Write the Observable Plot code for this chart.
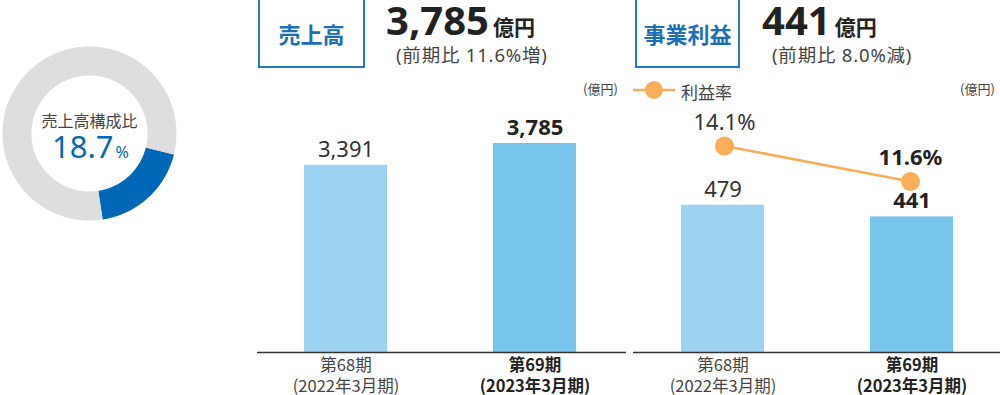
<!DOCTYPE html>
<html lang="ja">
<head>
<meta charset="utf-8">
<script src="https://cdn.jsdelivr.net/npm/d3@7"></script>
<script src="https://cdn.jsdelivr.net/npm/@observablehq/plot@0.6"></script>
<style>
  html, body { margin: 0; padding: 0; background: #fff; }
  body { font-family: "Noto Sans", "Noto Sans CJK JP", sans-serif; color: #333; }
  #wrap { position: relative; width: 1000px; height: 395px; overflow: hidden; }
  .abs { position: absolute; }
  .box { position: absolute; top: -2px; height: 70px; border: 2.5px solid #1f7bc4; box-sizing: border-box;
         color: #1a6fb8; font-weight: 700; font-size: 22px; display: flex; align-items: center; justify-content: center;
         font-family: "Noto Sans CJK JP", sans-serif; background: #fff; }
  .big { position: absolute; top: 0; font-size: 40px; line-height: 40px; font-weight: 700; color: #222; white-space: nowrap; }
  .big .unit { font-size: 21px; font-family: "Noto Sans CJK JP", sans-serif; margin-left: 4px; }
  .sub { position: absolute; top: 44px; font-size: 18.5px; line-height: 22px; color: #444; white-space: nowrap; letter-spacing: 0.8px; }
  .unitlbl { position: absolute; font-size: 13px; color: #444; white-space: nowrap; font-family: "Noto Sans CJK JP", sans-serif; }
  .legtxt { position: absolute; font-size: 17px; color: #444; font-family: "Noto Sans CJK JP", sans-serif; white-space: nowrap; }
  svg { overflow: visible; }
</style>
</head>
<body>
<div id="wrap">
  <div id="donut" class="abs" style="left:0px;top:44px"></div>
  <div id="salesChart" class="abs" style="left:254px;top:80px"></div>
  <div id="profitChart" class="abs" style="left:628px;top:80px"></div>
  <div id="rateChart" class="abs" style="left:628px;top:80px"></div>

  <div class="box" style="left:258px;width:107px">売上高</div>
  <div id="salesBig" class="big" style="left:386px"></div>
  <div id="salesSub" class="sub" style="left:396px"></div>
  <div class="unitlbl" style="left:583px;top:79px">(億円)</div>

  <div class="box" style="left:635px;width:105px">事業利益</div>
  <div id="profitBig" class="big" style="left:762px"></div>
  <div id="profitSub" class="sub" style="left:772px"></div>
  <div class="unitlbl" style="left:960px;top:79px">(億円)</div>

  <svg class="abs" style="left:630px;top:80px" width="50" height="20">
    <line x1="3" x2="45" y1="10" y2="10" stroke="#f8ae5b" stroke-width="2.5"></line>
    <circle cx="24" cy="10" r="9" fill="#f8ae5b"></circle>
  </svg>
  <div id="legendText" class="legtxt" style="left:681px;top:79px"></div>
</div>
<script>
// ---------- data ----------
const periods = ["第68期", "第69期"];
const periodSub = ["(2022年3月期)", "(2023年3月期)"];
const sales = [3391, 3785];          // 売上高 (億円)
const profit = [479, 441];           // 事業利益 (億円)
const profitRate = [14.1, 11.6];     // 利益率 (%)
const salesYoY = 11.6;               // 前期比 (%)
const profitYoY = -8.0;              // 前期比 (%)
const shareLabels = ["当社", "その他"];
const shareValues = [18.7, 81.3];    // 売上高構成比 (%)
const donutTitle = "売上高構成比";
const rateName = "利益率";

// ---------- styles ----------
const barColors = ["#9dd3f1", "#78c5ec"];
const shareColors = ["#0068b6", "#dedede"];
const rateColor = "#f8ae5b";
const numFont = '"Noto Sans", "Noto Sans CJK JP", sans-serif';
const jpFont = '"Noto Sans CJK JP", sans-serif';
const fmt = d3.format(",");

// ---------- header texts ----------
document.getElementById("salesBig").innerHTML = fmt(sales[1]) + '<span class="unit">億円</span>';
document.getElementById("profitBig").innerHTML = fmt(profit[1]) + '<span class="unit">億円</span>';
document.getElementById("salesSub").textContent = `(前期比 ${Math.abs(salesYoY).toFixed(1)}%${salesYoY >= 0 ? "増" : "減"})`;
document.getElementById("profitSub").textContent = `(前期比 ${Math.abs(profitYoY).toFixed(1)}%${profitYoY >= 0 ? "増" : "減"})`;
document.getElementById("legendText").textContent = rateName;

// ---------- donut ----------
const shareData = shareLabels.map((l, i) => ({label: l, value: shareValues[i]}));
const start = 104 * Math.PI / 180;
const arcs = d3.pie().sort(null).value(d => d.value).startAngle(start).endAngle(start + 2 * Math.PI)(shareData);
const innerR = 58 / 87;
const ringPts = arcs.flatMap(a => {
  const n = Math.max(2, Math.ceil((a.endAngle - a.startAngle) / (Math.PI / 360)));
  const pts = [];
  for (let k = 0; k <= n; k++) {
    const t = a.startAngle + (a.endAngle - a.startAngle) * k / n;
    pts.push({label: a.data.label, x: Math.sin(t), y: Math.cos(t)});
  }
  for (let k = n; k >= 0; k--) {
    const t = a.startAngle + (a.endAngle - a.startAngle) * k / n;
    pts.push({label: a.data.label, x: innerR * Math.sin(t), y: innerR * Math.cos(t)});
  }
  return pts;
});
const donut = Plot.plot({
  width: 180, height: 180, margin: 0,
  x: {domain: [-1, 1], range: [2, 176], axis: null},
  y: {domain: [-1, 1], range: [176, 2], axis: null},
  style: {background: "transparent", overflow: "visible"},
  marks: [
    ...shareLabels.map((l, i) => Plot.line(ringPts, {filter: d => d.label === l, x: "x", y: "y", fill: shareColors[i], stroke: "none"})),
    Plot.text([donutTitle], {x: () => 0, y: () => 0, text: d => d, dy: -12, fontSize: 16, fill: "#444", fontFamily: jpFont}),
    Plot.text([shareValues[0]], {x: () => 0, y: () => 0, text: d => d.toFixed(1), textAnchor: "end", dx: 24, dy: 15, fontSize: 31, fill: shareColors[0], fontFamily: numFont}),
    Plot.text([shareValues[0]], {x: () => 0, y: () => 0, text: () => "%", textAnchor: "start", dx: 26, dy: 19, fontSize: 16, fill: shareColors[0], fontFamily: numFont})
  ]
});
document.getElementById("donut").append(donut);

// ---------- bar charts ----------
function barChart(values, yTop, domainMax, marginLeft, xRange, width) {
  const data = periods.map((p, i) => ({period: p, value: values[i], i}));
  return Plot.plot({
    width, height: 335, marginLeft, marginRight: 0, marginTop: 0, marginBottom: 63,
    x: {domain: periods, range: xRange, paddingInner: 0.562, paddingOuter: 0.264, label: null},
    y: {domain: [0, domainMax], range: [272, yTop], axis: null},
    color: {domain: periods, range: barColors},
    style: {background: "transparent", overflow: "visible", fontFamily: numFont},
    marks: [
      Plot.barY(data, {x: "period", y: "value", fill: "period"}),
      Plot.ruleY([0], {stroke: "#333", strokeWidth: 1.5}),
      Plot.text(data.filter(d => d.i === 0), {x: "period", y: "value", text: d => fmt(d.value), dy: -15.5, fontSize: 22, fill: "#333"}),
      Plot.text(data.filter(d => d.i === 1), {x: "period", y: "value", text: d => fmt(d.value), dy: -15.5, fontSize: 22, fill: "#222", fontWeight: 700}),
      Plot.axisX([periods[0]], {tickSize: 0, tickPadding: 3, fontSize: 16.5, lineHeight: 1.28, color: "#444", label: null, fontFamily: jpFont,
        tickFormat: d => d + "\n" + periodSub[periods.indexOf(d)]}),
      Plot.axisX([periods[1]], {tickSize: 0, tickPadding: 3, fontSize: 16.5, lineHeight: 1.28, color: "#222", fontWeight: 700, label: null, fontFamily: jpFont,
        tickFormat: d => d + "\n" + periodSub[periods.indexOf(d)]})
    ]
  });
}
document.getElementById("salesChart").append(barChart(sales, 272 - 4000 * 209 / 3785, 4000, 3, [0, 372.6], 372));
document.getElementById("profitChart").append(barChart(profit, 272 - 500 * 0.3075, 500, 5, [3, 375.6], 372));

// ---------- rate line overlay ----------
const rateData = periods.map((p, i) => ({period: p, rate: profitRate[i], i}));
const rateChart = Plot.plot({
  width: 372, height: 315, marginLeft: 5, marginRight: 0, marginTop: 0, marginBottom: 43,
  x: {domain: periods, range: [3, 375.6], paddingInner: 0.562, paddingOuter: 0.264, axis: null},
  y: {domain: [0, 15], range: [265.7, 52.7], axis: null},
  style: {background: "transparent", overflow: "visible", fontFamily: numFont},
  marks: [
    Plot.line(rateData, {x: "period", y: "rate", stroke: rateColor, strokeWidth: 2.5}),
    Plot.dot(rateData, {x: "period", y: "rate", r: 9.5, fill: rateColor}),
    Plot.text(rateData.filter(d => d.i === 0), {x: "period", y: "rate", text: d => d.rate.toFixed(1) + "%", dy: -23, fontSize: 22, fill: "#333"}),
    Plot.text(rateData.filter(d => d.i === 1), {x: "period", y: "rate", text: d => d.rate.toFixed(1) + "%", dy: -24, fontSize: 22, fill: "#222", fontWeight: 700})
  ]
});
document.getElementById("rateChart").append(rateChart);
</script>
</body>
</html>
